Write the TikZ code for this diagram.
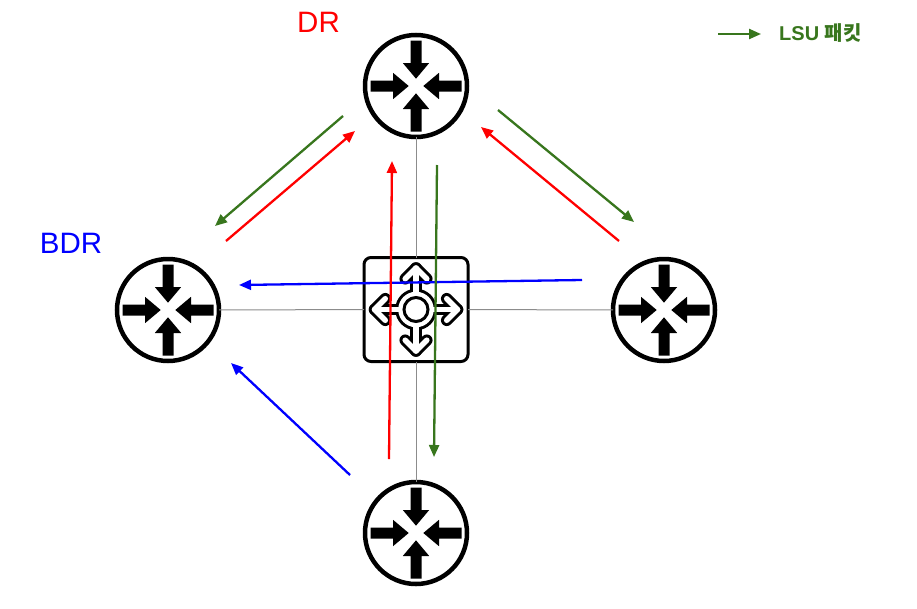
\documentclass[tikz,border=0pt]{standalone}
\usepackage{fontspec}
\setmainfont{Liberation Sans}
\newfontfamily\krfont{Noto Sans CJK KR}
\usetikzlibrary{arrows.meta}
\definecolor{lsugreen}{RGB}{56,118,29}
\definecolor{linkgray}{RGB}{140,140,140}
\tikzset{
  routernode/.style={circle,draw=black,fill=white,line width=4.5pt,minimum size=102pt,inner sep=0pt,outer sep=0pt},
  switchnode/.style={rectangle,draw=black,fill=white,line width=3pt,rounded corners=7pt,minimum size=104pt,inner sep=0pt,outer sep=0pt},
  link/.style={draw=linkgray,line width=1pt},
  flow/.style={line width=2.3pt,-{Triangle[length=12pt,width=10pt]}},
  label text/.style={font=\fontsize{29.5}{32}\selectfont,inner sep=0pt},
  hub outer/.style={draw=black,line width=11.5pt,line join=round,line cap=round},
  hub inner/.style={draw=white,line width=5.5pt,line join=round,line cap=round}
}
\newcommand{\routerarrows}[1]{%
  \foreach \ang in {0,90,180,270}{
    \fill[black,shift={(#1.center)},rotate=\ang]
      (-5.5,-45.5)--(5.5,-45.5)--(5.5,-23)--(13.2,-23)--(0,-7.3)--(-13.2,-23)--(-5.5,-23)--cycle;
  }}
\newcommand{\hubpaths}[1]{%
  \draw[#1] (0,0) circle (15);
  \foreach \ang in {0,90,180,270}{
    \draw[#1,rotate=\ang] (0,-15) -- (0,-41.5);
    \draw[#1,rotate=\ang] (-10.8,-30.7) -- (0,-41.5) -- (10.8,-30.7);
  }}
\newcommand{\hubicon}[1]{%
  \begin{scope}[shift={(#1.center)}]
    \hubpaths{hub outer}
    \hubpaths{hub inner}
    \draw[black,line width=3pt,fill=white] (0,0) circle (12);
  \end{scope}}
\begin{document}
\begin{tikzpicture}[x=1pt,y=-1pt]
  \useasboundingbox[fill=white] (0,0) rectangle (917,608);
  % nodes
  \node[routernode] (dr) at (416,86) {};
  \node[routernode] (bdr) at (168,310) {};
  \node[routernode] (rt) at (664,310) {};
  \node[routernode] (bt) at (416,533) {};
  \node[switchnode] (sw) at (416,309.5) {};
  % links
  \draw[link] (dr) -- (sw);
  \draw[link] (bdr) -- (sw);
  \draw[link] (rt) -- (sw);
  \draw[link] (bt) -- (sw);
  % icons
  \routerarrows{dr}
  \routerarrows{bdr}
  \routerarrows{rt}
  \routerarrows{bt}
  \hubicon{sw}
  % labels
  \node[label text,text=red] (drlabel) at (318.5,22) {DR};
  \node[label text,text=blue] (bdrlabel) at (71,243) {BDR};
  \node[font=\fontsize{20}{22}\selectfont\bfseries,text=lsugreen,inner sep=0pt,anchor=west] (legendlabel) at (779,33) {LSU {\krfont 패킷}};
  % flow end points
  \coordinate (a1) at (343,116); \coordinate (a2) at (215,226);
  \coordinate (b1) at (226,241); \coordinate (b2) at (355,131);
  \coordinate (c1) at (498,110); \coordinate (c2) at (634,222);
  \coordinate (d1) at (619,241); \coordinate (d2) at (481,127);
  \coordinate (e1) at (582,280); \coordinate (e2) at (239,285);
  \coordinate (f1) at (389,459); \coordinate (f2) at (392,161);
  \coordinate (g1) at (437,165); \coordinate (g2) at (434,457);
  \coordinate (h1) at (350,475); \coordinate (h2) at (231,363);
  \coordinate (l1) at (718,34);  \coordinate (l2) at (761,34);
  % flows
  \draw[flow,draw=lsugreen,fill=lsugreen] (a1) -- (a2);
  \draw[flow,draw=red,fill=red] (b1) -- (b2);
  \draw[flow,draw=lsugreen,fill=lsugreen] (c1) -- (c2);
  \draw[flow,draw=red,fill=red] (d1) -- (d2);
  \draw[flow,draw=blue,fill=blue] (e1) -- (e2);
  \draw[flow,draw=red,fill=red] (f1) -- (f2);
  \draw[flow,draw=lsugreen,fill=lsugreen] (g1) -- (g2);
  \draw[flow,draw=blue,fill=blue] (h1) -- (h2);
  \draw[flow,draw=lsugreen,fill=lsugreen] (l1) -- (l2);
\end{tikzpicture}
\end{document}
